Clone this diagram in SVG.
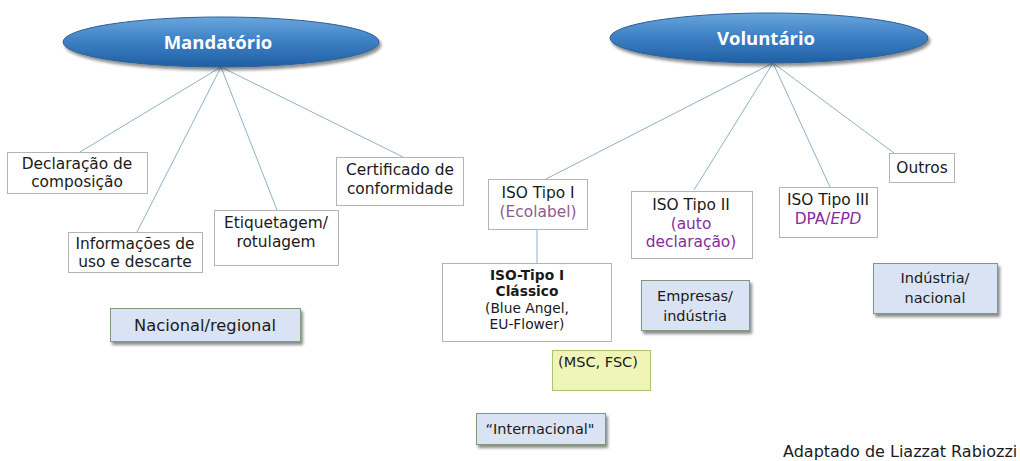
<svg xmlns="http://www.w3.org/2000/svg" width="1020" height="461" viewBox="0 0 1020 461">
<defs>
<linearGradient id="ovalFill" x1="0" y1="0" x2="0" y2="1">
<stop offset="0" stop-color="#6aa6dc"/>
<stop offset="0.45" stop-color="#3f82c6"/>
<stop offset="1" stop-color="#1f5fa3"/>
</linearGradient>
<filter id="shadow" x="-10%" y="-20%" width="130%" height="160%">
<feGaussianBlur in="SourceAlpha" stdDeviation="1.5"/>
<feOffset dx="2" dy="3" result="b"/>
<feComponentTransfer><feFuncA type="linear" slope="0.45"/></feComponentTransfer>
<feMerge><feMergeNode/><feMergeNode in="SourceGraphic"/></feMerge>
</filter>
</defs>
<style>
text{font-family:"DejaVu Sans","Open Sans",sans-serif;fill:#1a1a1a;font-size:15.4px;text-anchor:middle}
.oval{fill:url(#ovalFill);stroke:#2b5f96;stroke-width:1}
.otext{fill:#ffffff;font-family:"Open Sans","DejaVu Sans",sans-serif;font-weight:bold;font-size:18.5px}
.box{fill:#ffffff;stroke:#b4b4b4;stroke-width:1}
.tag{fill:#dae3f3;stroke:#7e9a7e;stroke-width:1}
.lime{fill:#eff5b6;stroke:#a9c46a;stroke-width:1}
.conn{stroke:#8fb1ca;stroke-width:1;fill:none}
.purple{fill:#852c9e}
.mauve{fill:#8e5b8a}
.mid{font-size:14.5px}
.small{font-size:13.8px}
.big{font-size:16.3px}
.bold{font-weight:bold}
.credit{text-anchor:start;font-size:16px}
</style>
<g id="connectors">
<line class="conn" x1="221" y1="67" x2="80" y2="152"/>
<line class="conn" x1="221" y1="67" x2="137" y2="232"/>
<line class="conn" x1="221" y1="67" x2="277" y2="210"/>
<line class="conn" x1="221" y1="67" x2="403" y2="157"/>
<line class="conn" x1="773" y1="63" x2="546" y2="179"/>
<line class="conn" x1="773" y1="63" x2="694" y2="190"/>
<line class="conn" x1="773" y1="63" x2="830" y2="187"/>
<line class="conn" x1="773" y1="63" x2="894" y2="153"/>
<line class="conn" x1="537" y1="230" x2="537" y2="263"/>
</g>
<g id="mandatorio">
<ellipse class="oval" cx="221" cy="42" rx="158" ry="25" filter="url(#shadow)"/>
<text class="otext" x="218" y="49">Mandatório</text>
</g>
<g id="voluntario">
<ellipse class="oval" cx="769" cy="38" rx="159" ry="25" filter="url(#shadow)"/>
<text class="otext" x="766" y="45">Voluntário</text>
</g>
<g id="declaracao">
<rect class="box" x="7.5" y="152.5" width="140" height="41"/>
<text x="77" y="169">Declaração de<tspan x="77" dy="18">composição</tspan></text>
</g>
<g id="informacoes">
<rect class="box" x="68.5" y="232.5" width="134" height="40"/>
<text x="135" y="249">Informações de<tspan x="135" dy="18">uso e descarte</tspan></text>
</g>
<g id="etiquetagem">
<rect class="box" x="214.5" y="210.5" width="124" height="55"/>
<text x="276" y="228">Etiquetagem/<tspan x="276" dy="18.5">rotulagem</tspan></text>
</g>
<g id="certificado">
<rect class="box" x="336.5" y="157.5" width="127" height="48"/>
<text x="400" y="175">Certificado de<tspan x="400" dy="18.5">conformidade</tspan></text>
</g>
<g id="nacional-regional">
<rect class="tag" x="110.5" y="308.5" width="190" height="33" filter="url(#shadow)"/>
<text class="big" x="205" y="331">Nacional/regional</text>
</g>
<g id="iso1">
<rect class="box" x="488.5" y="179.5" width="99" height="50"/>
<text x="538" y="198">ISO Tipo I<tspan class="mauve" x="538" dy="19">(Ecolabel)</tspan></text>
</g>
<g id="iso2">
<rect class="box" x="631.5" y="191.5" width="121" height="67"/>
<text x="691" y="210">ISO Tipo II<tspan class="purple" x="691" dy="18.5">(auto</tspan><tspan class="purple" x="691" dy="18.5">declaração)</tspan></text>
</g>
<g id="iso3">
<rect class="box" x="779.5" y="187.5" width="98" height="50"/>
<text x="828" y="205">ISO Tipo III<tspan class="purple" x="828" dy="18.5">DPA/</tspan><tspan class="purple" font-style="italic">EPD</tspan></text>
</g>
<g id="outros">
<rect class="box" x="889.5" y="153.5" width="65" height="29"/>
<text x="922" y="173">Outros</text>
</g>
<g id="iso1-classico">
<rect class="box" x="442.5" y="263.5" width="169" height="78"/>
<text class="small" x="527" y="280"><tspan class="bold">ISO-Tipo  I</tspan><tspan class="bold" x="527" dy="16.4">Clássico</tspan><tspan x="527" dy="16.4">(Blue Angel,</tspan><tspan x="527" dy="16.4">EU-Flower)</tspan></text>
</g>
<g id="empresas">
<rect class="tag" x="641.5" y="280.5" width="108" height="50" filter="url(#shadow)"/>
<text class="mid" x="695" y="301">Empresas/<tspan x="695" dy="20">indústria</tspan></text>
</g>
<g id="msc-fsc">
<rect class="lime" x="552.5" y="350.5" width="98" height="40"/>
<text class="mid" x="598" y="367">(MSC, FSC)</text>
</g>
<g id="industria-nacional">
<rect class="tag" x="873.5" y="263.5" width="124" height="50" filter="url(#shadow)"/>
<text class="mid" x="935" y="283">Indústria/<tspan x="935" dy="20">nacional</tspan></text>
</g>
<g id="internacional">
<rect class="tag" x="476.5" y="413.5" width="129" height="31" filter="url(#shadow)"/>
<text class="mid" x="540" y="434">“Internacional"</text>
</g>
<text class="credit" x="783" y="457">Adaptado de Liazzat Rabiozzi</text>
</svg>
